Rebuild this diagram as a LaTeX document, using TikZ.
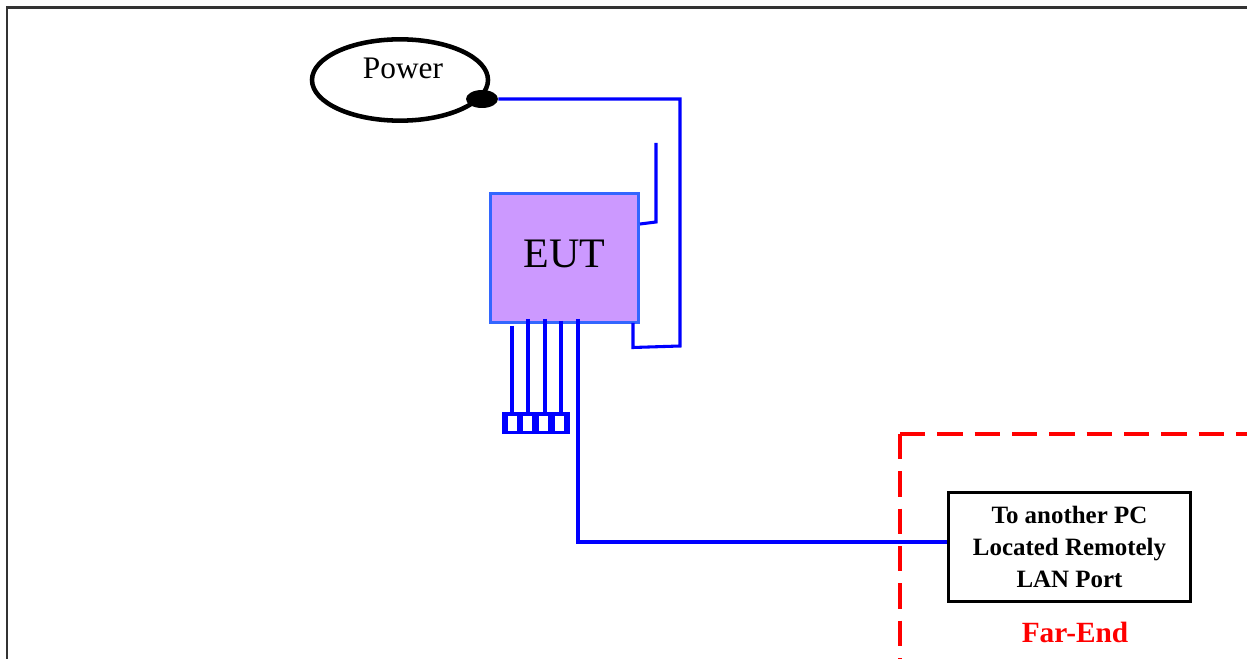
\documentclass[tikz,border=0pt]{standalone}
\usepackage{fontspec}
\setmainfont{Liberation Serif}
\usetikzlibrary{shapes.geometric}
\definecolor{euttfill}{HTML}{CC99FF}
\definecolor{eutborder}{HTML}{3366FF}
\definecolor{framegray}{HTML}{333333}
\definecolor{wireblue}{HTML}{0000FF}
\definecolor{farred}{HTML}{FF0000}
\begin{document}
\begin{tikzpicture}[x=0.75pt,y=-0.75pt,
  wire/.style={draw=wireblue, line width=2.3pt},
  powerell/.style={ellipse, draw=black, line width=3.4pt, minimum width=132pt, minimum height=61pt, inner sep=0pt},
  plugdot/.style={ellipse, fill=black, minimum width=24pt, minimum height=13.5pt, inner sep=0pt},
  eutbox/.style={rectangle, draw=eutborder, fill=euttfill, line width=2.3pt, minimum width=111pt, minimum height=97pt, inner sep=0pt, text depth=7pt, font=\fontsize{31.5}{36}\selectfont},
  connblock/.style={rectangle, fill=wireblue, minimum width=51pt, minimum height=16.5pt, inner sep=0pt},
  pinhole/.style={rectangle, fill=white, minimum width=6.75pt, minimum height=11.25pt, inner sep=0pt},
  lanbox/.style={rectangle, draw=black, line width=2.3pt, minimum width=182pt, minimum height=82pt, inner sep=0pt, align=center, font=\bfseries\fontsize{18.7}{24}\selectfont},
  farlabel/.style={text=farred, font=\bfseries\fontsize{22}{26}\selectfont},
  zone/.style={draw=farred, line width=2.4pt, dash pattern=on 19pt off 9pt}
]
\useasboundingbox (0,0) rectangle (1247,659);
% outer frame
\draw[framegray, line width=1.9pt] (7,659) -- (7,7.5) -- (1247,7.5);
% power
\node[powerell] (power) at (400,80) {};
\node[font=\fontsize{23.5}{28}\selectfont] (powertext) at (403,68) {Power};
\node[plugdot] (plug) at (482,99) {};
% EUT
\node[eutbox] (eut) at (564.5,258) {EUT};
% antenna
\coordinate (anttop) at (656,143);
\draw[wire] (anttop) -- (656,222) -- (eut.east |- 0,224);
% power cord
\draw[wire] (plug.east) -| (680,346) -- (633,347.5) -- (633,323);
% connector
\node[connblock] (conn) at (536,423) {};
\node[pinhole] (h1) at (512.2,424) {};
\node[pinhole] (h2) at (527.2,424) {};
\node[pinhole] (h3) at (543,424) {};
\node[pinhole] (h4) at (559.5,424) {};
\draw[wire] (512,326) -- (512,326 |- conn.north);
\draw[wire] (528,319) -- (528,319 |- conn.north);
\draw[wire] (545,319) -- (545,319 |- conn.north);
\draw[wire] (561,321) -- (561,321 |- conn.north);
% far-end zone
\coordinate (zc) at (900,434);
\draw[zone] (zc) -- (1247,434);
\draw[zone] (zc) -- (900,659);
% LAN box
\node[lanbox] (lan) at (1069.5,547) {To another PC\\Located Remotely\\LAN Port};
\node[farlabel] (farend) at (1075,632) {Far-End};
% LAN cable
\draw[wire] (578,319) |- ([yshift=3.75pt]lan.west);
\end{tikzpicture}
\end{document}
